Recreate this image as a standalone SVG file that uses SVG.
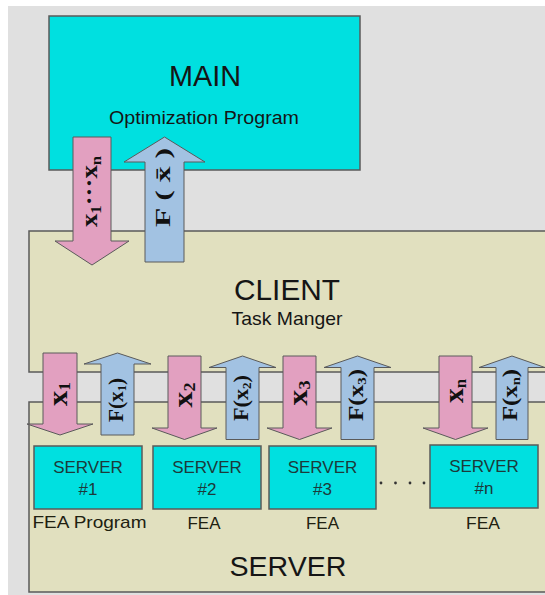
<svg xmlns="http://www.w3.org/2000/svg" width="545" height="595" viewBox="0 0 545 595">
<style>
.box{stroke:#5a5a5a;stroke-width:1.5}
.cyan{fill:#00e0e0}
.olive{fill:#e1e0bf}
.pink{fill:#e2a0c0;stroke:#5a5a5a;stroke-width:1}
.blue{fill:#a2c2e2;stroke:#5a5a5a;stroke-width:1}
.sans{font-family:"Liberation Sans",Arial,sans-serif;fill:#151515;text-anchor:middle}
.srv{font-family:"Liberation Sans",Arial,sans-serif;fill:#1c3a3a;text-anchor:middle;font-size:17px}
.fea{font-family:"Liberation Sans",Arial,sans-serif;fill:#202010;text-anchor:middle;font-size:17px}
.math{font-family:"Liberation Serif","Times New Roman",serif;font-weight:bold;fill:#111;text-anchor:middle}
</style>
<rect x="0" y="0" width="545" height="595" fill="#ffffff"/>
<rect x="8" y="6" width="537" height="589" fill="#e0e0e0"/>

<g id="client">
<rect class="box olive" x="29" y="231" width="530" height="141"/>
<text class="sans" x="287" y="300" font-size="29" textLength="106" lengthAdjust="spacingAndGlyphs">CLIENT</text>
<text class="sans" x="287" y="325" font-size="18.5" textLength="111" lengthAdjust="spacingAndGlyphs">Task Manger</text>
</g>

<g id="server">
<rect class="box olive" x="29" y="402" width="530" height="190"/>
<text class="sans" x="288" y="576" font-size="27" textLength="117" lengthAdjust="spacingAndGlyphs">SERVER</text>
</g>

<g id="main">
<rect class="box cyan" x="49" y="16" width="311" height="154"/>
<text class="sans" x="205" y="86" font-size="29" textLength="72" lengthAdjust="spacingAndGlyphs">MAIN</text>
<text class="sans" x="204" y="124" font-size="17.5" textLength="190" lengthAdjust="spacingAndGlyphs">Optimization Program</text>
</g>

<g id="server1">
<rect class="box cyan" x="34" y="446" width="108" height="63"/>
<text class="srv" x="88" y="473">SERVER</text>
<text class="srv" x="88" y="495">#1</text>
<text class="fea" x="89.5" y="528" textLength="114" lengthAdjust="spacingAndGlyphs">FEA Program</text>
</g>
<g id="server2">
<rect class="box cyan" x="153" y="446" width="108" height="63"/>
<text class="srv" x="207" y="473">SERVER</text>
<text class="srv" x="207" y="495">#2</text>
<text class="fea" x="204" y="529" textLength="33" lengthAdjust="spacingAndGlyphs">FEA</text>
</g>
<g id="server3">
<rect class="box cyan" x="269" y="446" width="107" height="63"/>
<text class="srv" x="322.5" y="473">SERVER</text>
<text class="srv" x="322.5" y="495">#3</text>
<text class="fea" x="322.5" y="529" textLength="33" lengthAdjust="spacingAndGlyphs">FEA</text>
</g>
<g id="servern">
<rect class="box cyan" x="430" y="445" width="108" height="63"/>
<text class="srv" x="484" y="472">SERVER</text>
<text class="srv" x="484" y="494">#n</text>
<text class="fea" x="483" y="529" textLength="34" lengthAdjust="spacingAndGlyphs">FEA</text>
</g>
<g id="ellipsis" fill="#333">
<circle cx="381" cy="483" r="1.4"/>
<circle cx="395.5" cy="483" r="1.4"/>
<circle cx="410" cy="483" r="1.4"/>
<circle cx="424" cy="483" r="1.4"/>
</g>

<g id="connectors">
<path class="pink" d="M73,137 H111 V241 H129 L92,265 L55,241 H73 Z"/>
<path class="blue" d="M145,262 V162 H124 L164.5,137 L205,162 H184 V262 Z"/>

<path class="pink" d="M43,353 H77 V424 H93 L60,435 L27,424 H43 Z"/>
<path class="blue" d="M101,435 V364 H84 L117.5,353 L151,364 H134 V435 Z"/>
<path class="pink" d="M168,356 H201 V428 H217 L184.5,439.5 L152,428 H168 Z"/>
<path class="blue" d="M226,439.5 V367.5 H209 L242.5,356 L276,367.5 H259 V439.5 Z"/>
<path class="pink" d="M283,356 H316 V428 H332 L299.5,439.5 L267,428 H283 Z"/>
<path class="blue" d="M341,439.5 V367.5 H324 L357.5,356 L391,367.5 H374 V439.5 Z"/>
<path class="pink" d="M439,356 H472 V428 H488 L455.5,439.5 L423,428 H439 Z"/>
<path class="blue" d="M496,439.5 V367.5 H479 L512,356 L545,367.5 H528 V439.5 Z"/>

<text class="math" transform="translate(92,191.5) rotate(-90)" y="5" font-size="24" textLength="71" lengthAdjust="spacingAndGlyphs">x<tspan font-size="15" dy="4">1</tspan><tspan dy="-4">···x</tspan><tspan font-size="15" dy="4">n</tspan></text>
<text class="math" transform="translate(164.5,187.5) rotate(-90)" y="5" font-size="21" textLength="79" lengthAdjust="spacingAndGlyphs">F ( x̄ )</text>

<text class="math" transform="translate(60,394) rotate(-90)" y="7" font-size="28" textLength="24" lengthAdjust="spacingAndGlyphs">x<tspan font-size="16" dy="3">1</tspan></text>
<text class="math" transform="translate(117.5,400) rotate(-90)" y="5" font-size="22" textLength="44" lengthAdjust="spacingAndGlyphs">F(x<tspan font-size="13" dy="3">1</tspan><tspan dy="-3">)</tspan></text>

<text class="math" transform="translate(184.5,395) rotate(-90)" y="7" font-size="28" textLength="25" lengthAdjust="spacingAndGlyphs">x<tspan font-size="16" dy="3">2</tspan></text>
<text class="math" transform="translate(242.5,398) rotate(-90)" y="5" font-size="22" textLength="46" lengthAdjust="spacingAndGlyphs">F(x<tspan font-size="13" dy="3">2</tspan><tspan dy="-3">)</tspan></text>

<text class="math" transform="translate(299.5,393) rotate(-90)" y="7" font-size="28" textLength="25" lengthAdjust="spacingAndGlyphs">x<tspan font-size="16" dy="3">3</tspan></text>
<text class="math" transform="translate(357.5,395) rotate(-90)" y="5" font-size="22" textLength="52" lengthAdjust="spacingAndGlyphs">F(x<tspan font-size="13" dy="3">3</tspan><tspan dy="-3">)</tspan></text>

<text class="math" transform="translate(455.5,391) rotate(-90)" y="7" font-size="28" textLength="24" lengthAdjust="spacingAndGlyphs">x<tspan font-size="16" dy="3">n</tspan></text>
<text class="math" transform="translate(512,395) rotate(-90)" y="5" font-size="22" textLength="52" lengthAdjust="spacingAndGlyphs">F(x<tspan font-size="13" dy="3">n</tspan><tspan dy="-3">)</tspan></text>
</g>
</svg>
